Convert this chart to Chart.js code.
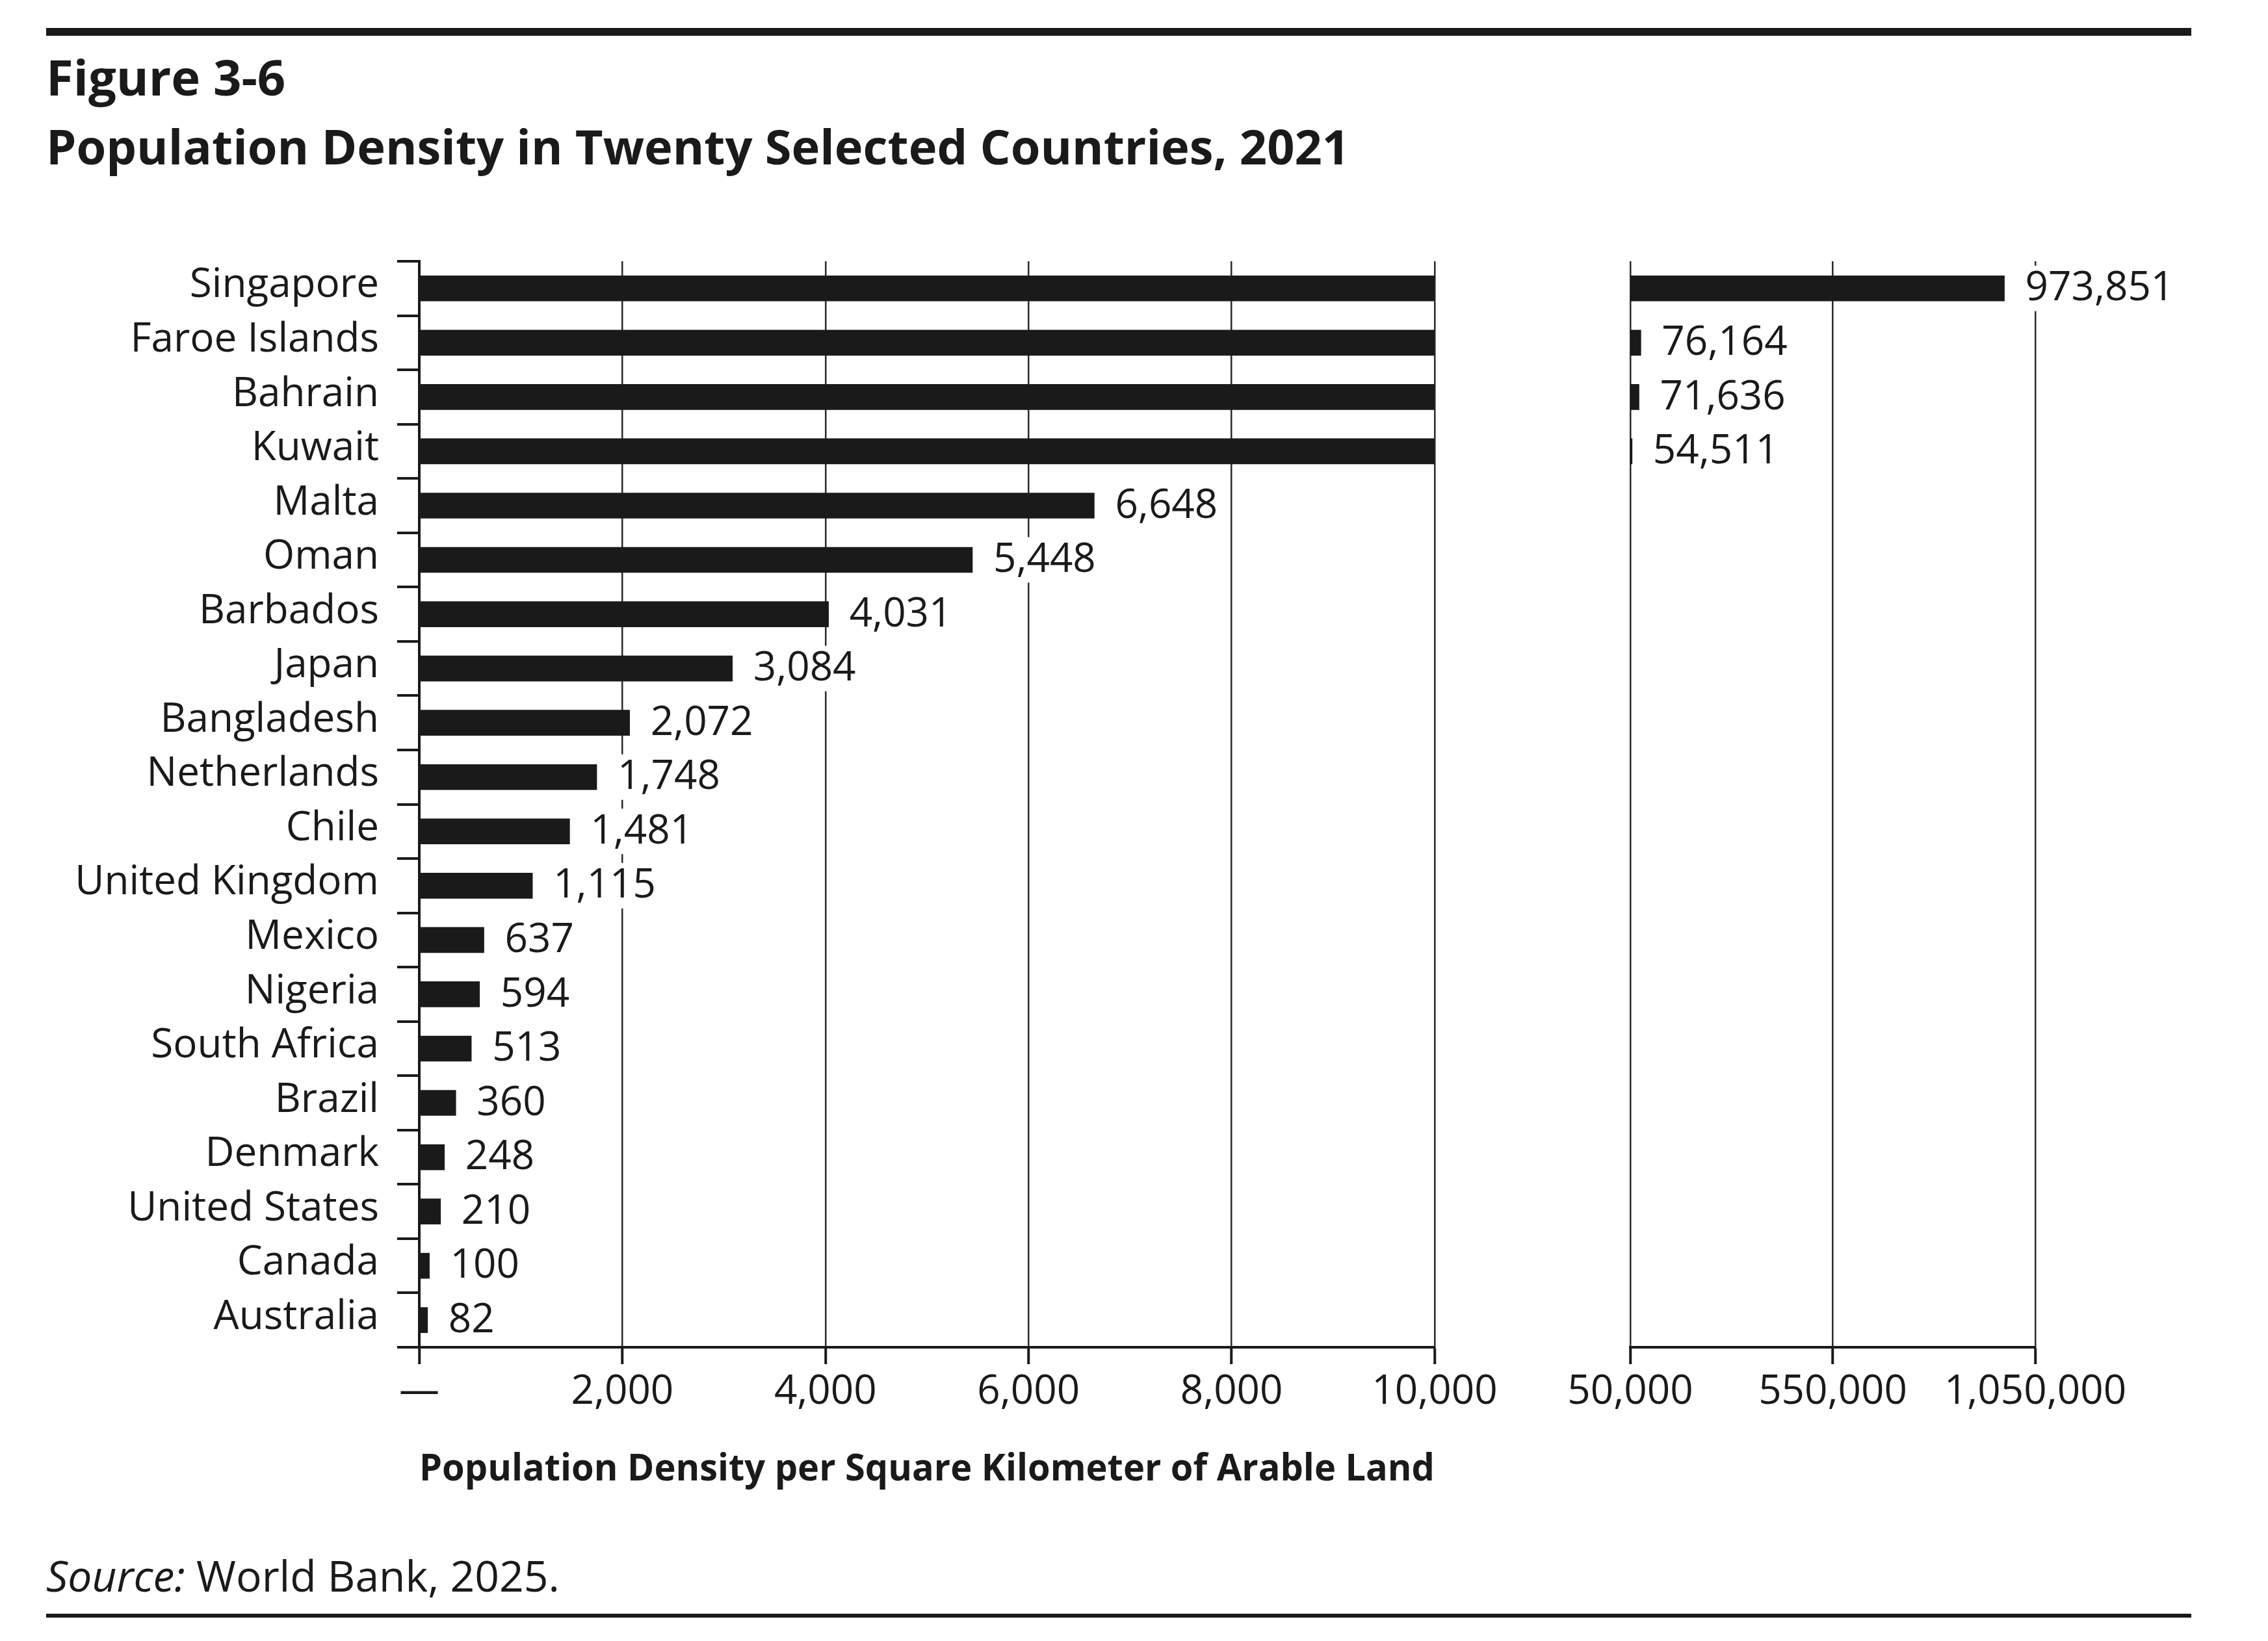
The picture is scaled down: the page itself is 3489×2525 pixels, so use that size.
<!DOCTYPE html>
<html>
<head>
<meta charset="utf-8">
<script src="https://cdn.jsdelivr.net/npm/chart.js@4.4.1/dist/chart.umd.min.js"></script>
<style>
  html, body { margin: 0; padding: 0; background: #ffffff; }
  body { width: 3489px; height: 2525px; position: relative; overflow: hidden; font-family: "Open Sans", sans-serif; color: #1a1a1a; }
  .rule { position: absolute; background: #1a1a1a; }
  .txt { position: absolute; white-space: nowrap; line-height: 1.362; }
  canvas { position: absolute; top: 0; }
</style>
</head>
<body>
<div class="rule" style="left:71px; top:43px; width:3300px; height:12px;"></div>
<div class="txt" id="figNum" style="left:71px; top:66px; font-size:76px; font-weight:700;">Figure 3-6</div>
<div class="txt" id="figTitle" style="left:71px; top:175px; font-size:74px; font-weight:700;">Population Density in Twenty Selected Countries, 2021</div>
<div class="txt" id="source" style="left:71px; top:2379px; font-size:66px;"><i>Source:</i> World Bank, 2025.</div>
<div class="rule" style="left:71px; top:2483px; width:3300px; height:6px;"></div>

<canvas id="leftChart" width="2400" height="2330" style="left:0px; width:2400px; height:2330px;"></canvas>
<canvas id="rightChart" width="1189" height="2330" style="left:2300px; width:1189px; height:2330px;"></canvas>

<script>
// ---- data ----
const countries = ["Singapore", "Faroe Islands", "Bahrain", "Kuwait", "Malta", "Oman", "Barbados", "Japan",
  "Bangladesh", "Netherlands", "Chile", "United Kingdom", "Mexico", "Nigeria", "South Africa", "Brazil",
  "Denmark", "United States", "Canada", "Australia"];
const densities = [973851, 76164, 71636, 54511, 6648, 5448, 4031, 3084,
  2072, 1748, 1481, 1115, 637, 594, 513, 360,
  248, 210, 100, 82];
const leftTickValues = [0, 2000, 4000, 6000, 8000, 10000];
const leftTickLabels = ["\u2014", "2,000", "4,000", "6,000", "8,000", "10,000"];
const rightTickValues = [50000, 550000, 1050000];
const rightTickLabels = ["50,000", "550,000", "1,050,000"];
const xAxisTitle = "Population Density per Square Kilometer of Arable Land";

// ---- styling ----
const INK = "#1a1a1a";
const FONT = '"Open Sans", sans-serif';
const PLOT_TOP = 402, PLOT_BOTTOM = 2073, CANVAS_H = 2330;
const X_AXIS_H = CANVAS_H - PLOT_BOTTOM;

const leftMax = leftTickValues[leftTickValues.length - 1];
const rightValues = densities.map(v => v > leftMax ? v : null);

const valueLabels = {
  id: 'valueLabels',
  afterDatasetsDraw(chart) {
    const ctx = chart.ctx;
    const meta = chart.getDatasetMeta(0);
    const xs = chart.scales.x;
    const data = chart.data.datasets[0].data;
    const size = 62;
    ctx.save();
    ctx.font = size + 'px ' + FONT;
    ctx.textBaseline = 'middle';
    ctx.textAlign = 'left';
    meta.data.forEach((bar, i) => {
      const v = data[i];
      if (v == null || v > xs.max) return;
      const text = v.toLocaleString('en-US');
      const x = bar.x + 32;
      const y = bar.y;
      const w = ctx.measureText(text).width;
      ctx.fillStyle = '#ffffff';
      ctx.fillRect(x - 8, y - 35, w + 16, 70);
      ctx.fillStyle = INK;
      ctx.fillText(text, x, y + 1);
    });
    ctx.restore();
  }
};

function xScale(min, max, step, labels, title) {
  return {
    type: 'linear',
    min: min, max: max,
    afterFit: s => { s.height = X_AXIS_H; },
    ticks: {
      stepSize: step,
      autoSkip: false, maxRotation: 0, minRotation: 0,
      padding: 6,
      color: INK,
      font: { family: FONT, size: 62 },
      callback: (v, i) => labels[i]
    },
    grid: { color: '#2a2a2a', lineWidth: 2.5, tickLength: 26, tickWidth: 4, tickColor: INK, drawTicks: true },
    border: { display: true, color: INK, width: 4 },
    title: title ? {
      display: true, text: title, color: INK,
      font: { family: FONT, size: 57, weight: 'bold' },
      padding: { top: 0, bottom: 34 }
    } : { display: false }
  };
}

Chart.defaults.font.family = FONT;

new Chart(document.getElementById('leftChart'), {
  type: 'bar',
  data: { labels: countries, datasets: [{ data: densities, backgroundColor: INK, borderWidth: 0, barThickness: 39 }] },
  options: {
    indexAxis: 'y', responsive: false, animation: false, devicePixelRatio: 1,
    layout: { padding: { top: PLOT_TOP, right: 193, bottom: 0, left: 0 } },
    plugins: { legend: { display: false }, tooltip: { enabled: false }, title: { display: false } },
    scales: {
      x: xScale(leftTickValues[0], leftMax, leftTickValues[1] - leftTickValues[0], leftTickLabels, xAxisTitle),
      y: {
        type: 'category',
        afterFit: s => { s.width = 645; },
        ticks: { autoSkip: false, padding: 28, color: INK, font: { family: FONT, size: 62 }, labelOffset: -4 },
        grid: { offset: true, drawOnChartArea: false, drawTicks: true, tickLength: 34, lineWidth: 4, color: INK },
        border: { display: true, color: INK, width: 4 }
      }
    }
  },
  plugins: [valueLabels]
});

new Chart(document.getElementById('rightChart'), {
  type: 'bar',
  data: { labels: countries, datasets: [{ data: rightValues, backgroundColor: INK, borderWidth: 0, barThickness: 39 }] },
  options: {
    indexAxis: 'y', responsive: false, animation: false, devicePixelRatio: 1,
    layout: { padding: { top: PLOT_TOP, right: 358, bottom: 0, left: 208 } },
    plugins: { legend: { display: false }, tooltip: { enabled: false }, title: { display: false } },
    scales: {
      x: xScale(rightTickValues[0], rightTickValues[rightTickValues.length - 1], rightTickValues[1] - rightTickValues[0], rightTickLabels, null),
      y: { type: 'category', display: false, grid: { offset: true } }
    }
  },
  plugins: [valueLabels]
});
</script>
</body>
</html>
